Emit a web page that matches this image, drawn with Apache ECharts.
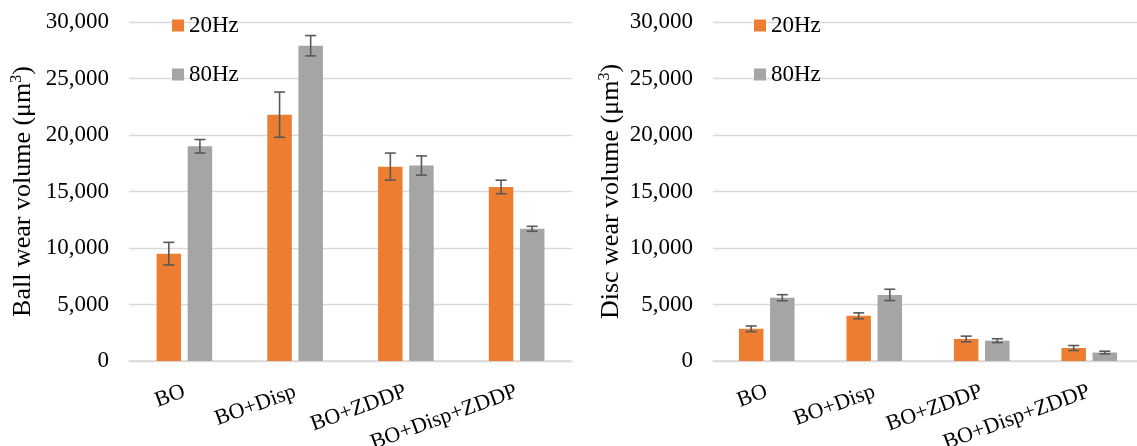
<!DOCTYPE html>
<html>
<head>
<meta charset="utf-8">
<script src="https://cdn.jsdelivr.net/npm/echarts@6/dist/echarts.min.js"></script>
<style>
  html, body { margin: 0; padding: 0; background: #ffffff; }
  #chart { width: 1137px; height: 446px; }
</style>
</head>
<body>
<div id="chart"></div>
<script>
// Lubricant additive tests: wear volumes of ball and disc at two frequencies
const categories = ['BO', 'BO+Disp', 'BO+ZDDP', 'BO+Disp+ZDDP'];
const seriesNames = ['20Hz', '80Hz'];

const ball20 = [9500, 21800, 17200, 15400];
const ball20Err = [1000, 2000, 1200, 600];
const ball80 = [19000, 27900, 17300, 11700];
const ball80Err = [600, 900, 850, 220];

const disc20 = [2850, 4000, 1950, 1150];
const disc20Err = [250, 260, 250, 220];
const disc80 = [5600, 5850, 1800, 750];
const disc80Err = [270, 500, 170, 120];

const yTicks = { min: 0, max: 30000, interval: 5000 };

const FONT = '"Liberation Serif", "Times New Roman", serif';
const FS = 23;
const X_FS = 22;
const TITLE_FS = 26;
const ORANGE = '#ED7D31';
const GRAY = '#A5A5A5';
const GRID_COLOR = '#D9D9D9';
const ERR_COLOR = '#595959';
const BAR_W = 24.5;
const BAR_GAP = 0.27;

function fmt(v) { return v.toLocaleString('en-US'); }

function errorSeries(values, errs, gridIdx, side) {
  const data = values.map((v, i) => [i, v, errs[i]]);
  const offset = side * BAR_W * (1 + BAR_GAP) / 2;
  return {
    type: 'custom',
    xAxisIndex: gridIdx,
    yAxisIndex: gridIdx,
    z: 5,
    silent: true,
    data: data,
    encode: { x: 0, y: 1 },
    renderItem: function (params, api) {
      const i = api.value(0), v = api.value(1), e = api.value(2);
      const c = api.coord([i, v]);
      const x = c[0] + offset;
      const yTop = api.coord([i, v + e])[1];
      const yBot = api.coord([i, v - e])[1];
      const hw = 5.5;
      const style = { stroke: ERR_COLOR, lineWidth: 1.6 };
      return {
        type: 'group',
        children: [
          { type: 'line', shape: { x1: x, y1: yTop, x2: x, y2: yBot }, style: style },
          { type: 'line', shape: { x1: x - hw, y1: yTop, x2: x + hw, y2: yTop }, style: style },
          { type: 'line', shape: { x1: x - hw, y1: yBot, x2: x + hw, y2: yBot }, style: style }
        ]
      };
    }
  };
}

function barSeries(name, values, color, gridIdx) {
  return {
    name: name,
    type: 'bar',
    xAxisIndex: gridIdx,
    yAxisIndex: gridIdx,
    data: values,
    barWidth: BAR_W,
    barGap: (BAR_GAP * 100) + '%',
    itemStyle: { color: color },
    emphasis: { disabled: true }
  };
}

function xAxis(gridIdx) {
  return {
    type: 'category',
    gridIndex: gridIdx,
    data: categories,
    axisLine: { lineStyle: { color: GRID_COLOR, width: 1.5 } },
    axisTick: { show: false },
    axisLabel: {
      rotate: 20,
      margin: 30,
      interval: 0,
      color: '#000',
      fontFamily: FONT,
      fontSize: X_FS
    }
  };
}

function yAxis(gridIdx, title, gap) {
  return {
    type: 'value',
    gridIndex: gridIdx,
    min: yTicks.min,
    max: yTicks.max,
    interval: yTicks.interval,
    axisLine: { show: false },
    axisTick: { show: false },
    splitLine: { lineStyle: { color: GRID_COLOR, width: 1.3 } },
    axisLabel: {
      margin: 20,
      color: '#000',
      fontFamily: FONT,
      fontSize: FS,
      formatter: fmt
    },
    name: title,
    nameLocation: 'middle',
    nameRotate: 90,
    nameGap: gap,
    nameTextStyle: {
      color: '#000',
      fontFamily: FONT,
      fontSize: TITLE_FS,
      lineHeight: 28,
      rich: {
        sup: { fontFamily: FONT, fontSize: 16, lineHeight: 28, padding: [0, 0, 12, 0], color: '#000' }
      }
    }
  };
}

function legend(left) {
  return {
    orient: 'vertical',
    left: left,
    top: 14,
    padding: 0,
    itemWidth: 12,
    itemHeight: 12,
    itemGap: 26,
    icon: 'rect',
    data: seriesNames,
    textStyle: { color: '#000', fontFamily: FONT, fontSize: FS, lineHeight: 22 }
  };
}

const chart = echarts.init(document.getElementById('chart'), null, { renderer: 'canvas' });
chart.setOption({
  backgroundColor: '#ffffff',
  animation: false,
  legend: [legend(172), legend(754)],
  grid: [
    { left: 129, top: 22, width: 443, height: 339, containLabel: false, outerBoundsMode: 'none' },
    { left: 713, top: 22, width: 430, height: 339, containLabel: false, outerBoundsMode: 'none' }
  ],
  xAxis: [xAxis(0), xAxis(1)],
  yAxis: [
    yAxis(0, 'Ball wear volume (μm{sup|3})', 92),
    yAxis(1, 'Disc wear volume (μm{sup|3})', 88)
  ],
  series: [
    barSeries(seriesNames[0], ball20, ORANGE, 0),
    barSeries(seriesNames[1], ball80, GRAY, 0),
    barSeries(seriesNames[0], disc20, ORANGE, 1),
    barSeries(seriesNames[1], disc80, GRAY, 1),
    errorSeries(ball20, ball20Err, 0, -1),
    errorSeries(ball80, ball80Err, 0, 1),
    errorSeries(disc20, disc20Err, 1, -1),
    errorSeries(disc80, disc80Err, 1, 1)
  ]
});
</script>
</body>
</html>
